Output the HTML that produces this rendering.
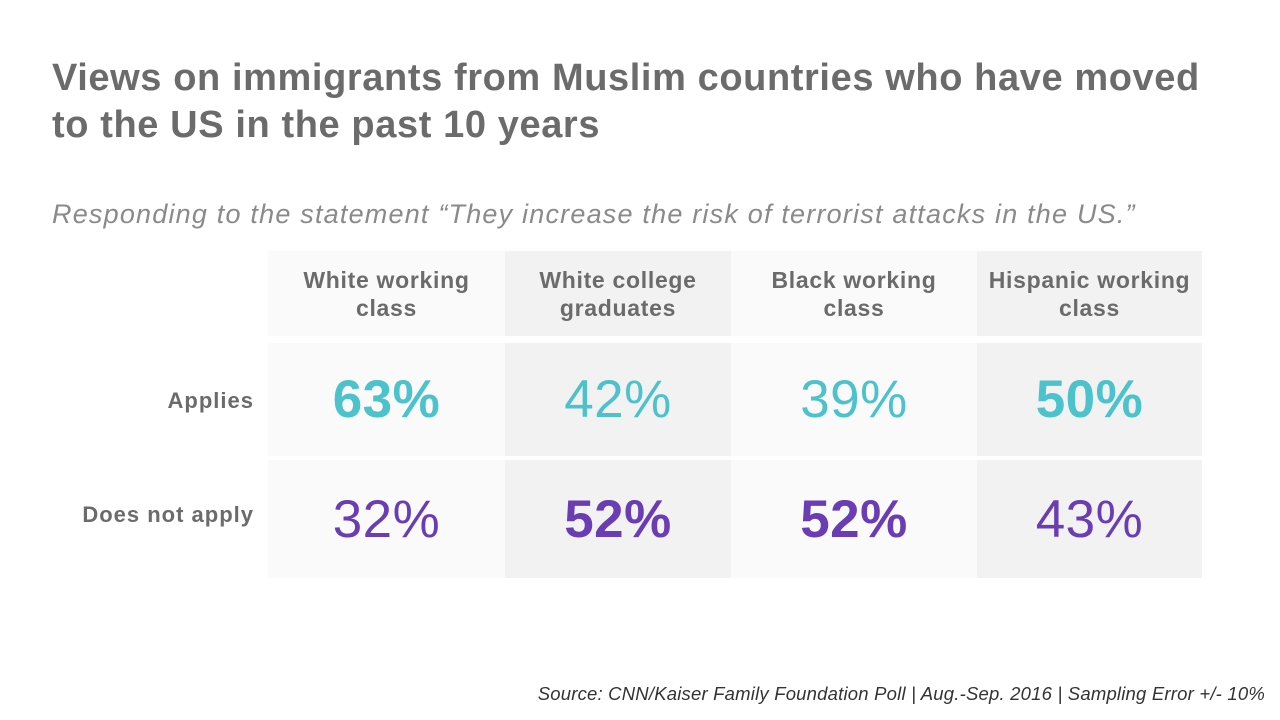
<!DOCTYPE html>
<html><head><meta charset="utf-8"><style>
body{margin:0;width:1280px;height:720px;background:#fff;font-family:"Liberation Sans",sans-serif;position:relative;overflow:hidden}
.t{position:absolute;left:52px;top:55px;font-size:38px;letter-spacing:0.6px;font-weight:bold;color:#6b6b6b;line-height:47px;margin:0;white-space:nowrap}
.s{position:absolute;left:52px;top:199px;font-size:27px;letter-spacing:1.2px;font-style:italic;color:#8a8a8a;white-space:nowrap}
.src{position:absolute;right:15px;top:683px;font-size:18.5px;letter-spacing:0.2px;font-style:italic;color:#333;white-space:nowrap}
.cell{position:absolute;display:flex;align-items:center;justify-content:center;text-align:center}
.h{font-size:23px;letter-spacing:0.7px;font-weight:bold;color:#6b6b6b;line-height:28px}
.v{font-size:53px;letter-spacing:0.5px}
.rl{position:absolute;font-size:22px;letter-spacing:1px;font-weight:bold;color:#6b6b6b;right:1026px;text-align:right;white-space:nowrap}
</style></head><body>
<h1 class="t">Views on immigrants from Muslim countries who have moved<br>to the US in the past 10 years</h1>
<div class="s">Responding to the statement “They increase the risk of terrorist attacks in the US.”</div>
<div id="tbl"></div>
<div class="src">Source: CNN/Kaiser Family Foundation Poll | Aug.-Sep. 2016 | Sampling Error +/- 10%</div>
<script>
const groups=["White working<br>class","White college<br>graduates","Black working<br>class","Hispanic working<br>class"];
const rowLabels=["Applies","Does not apply"];
const applies=[63,42,39,50];
const notApply=[32,52,52,43];
const colX=[268,505,731,977,1202];
const rowY=[251,336,340,453,457,575];
const colors=["#4cc2cc","#6a3db4"];
const tbl=document.getElementById('tbl');
const series=[applies,notApply];
for(let c=0;c<4;c++){
  const bg=c%2?"#f2f2f2":"#fafafa";
  const h=document.createElement('div');
  
  
  h.className='cell h';
  h.style.cssText=`left:${colX[c]}px;width:${colX[c+1]-colX[c]}px;top:${rowY[0]}px;height:${rowY[1]-rowY[0]}px;background:${bg}`;
  h.innerHTML=groups[c];
  tbl.appendChild(h);
  for(let r=0;r<2;r++){
    const v=series[r][c], o=series[1-r][c];
    const d=document.createElement('div');
    
    
    d.className='cell v';
    d.style.cssText=`left:${colX[c]}px;width:${colX[c+1]-colX[c]}px;top:${rowY[2+r*2]+3}px;height:${rowY[3+r*2]-rowY[2+r*2]}px;background:${bg};color:${colors[r]};font-weight:${v>o?'bold':'normal'}`;
    d.textContent=v+'%';
    tbl.appendChild(d);
  }
}
for(let r=0;r<2;r++){
  const l=document.createElement('div');
  
  
  l.className='rl';
  l.style.top=(r?502:388)+'px';
  l.textContent=rowLabels[r];
  tbl.appendChild(l);
}
</script>
</body></html>
